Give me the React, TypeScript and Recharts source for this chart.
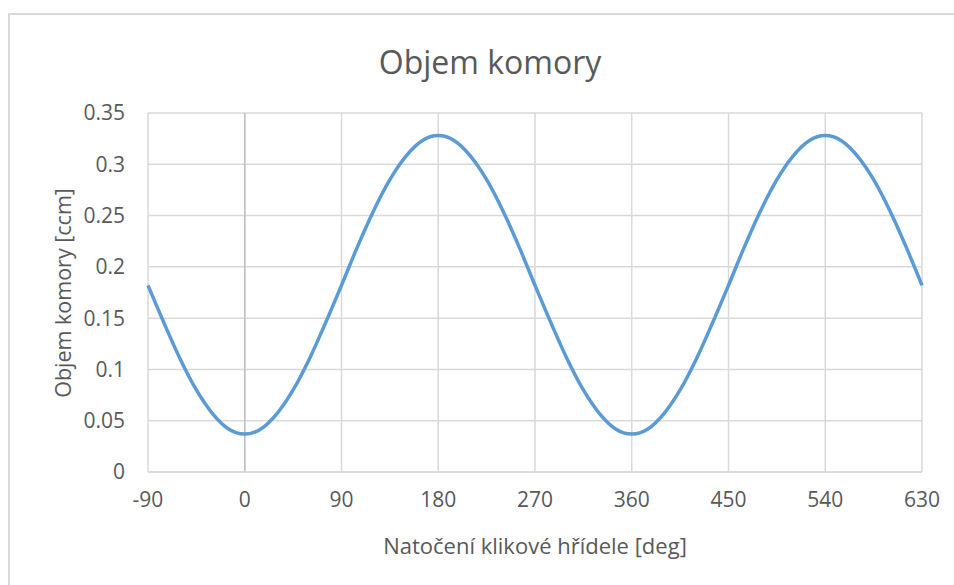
import { CartesianGrid, Line, LineChart, ReferenceLine, XAxis, YAxis } from "recharts";

const angles = [
  -90, -75, -60, -45, -30, -15, 0, 15, 30, 45, 60, 75, 90, 105, 120, 135, 150, 165, 180, 195, 210, 225, 240, 255, 270,
  285, 300, 315, 330, 345, 360, 375, 390, 405, 420, 435, 450, 465, 480, 495, 510, 525, 540, 555, 570, 585, 600, 615, 630,
];
const volumes = [
  0.182, 0.145, 0.11, 0.08, 0.057, 0.042, 0.037, 0.042, 0.057, 0.08, 0.11, 0.145, 0.182, 0.22, 0.255, 0.285, 0.308, 0.323,
  0.328, 0.323, 0.308, 0.285, 0.255, 0.22, 0.182, 0.145, 0.11, 0.08, 0.057, 0.042, 0.037, 0.042, 0.057, 0.08, 0.11, 0.145,
  0.182, 0.22, 0.255, 0.285, 0.308, 0.323, 0.328, 0.323, 0.308, 0.285, 0.255, 0.22, 0.182,
];
const xTicks = [-90, 0, 90, 180, 270, 360, 450, 540, 630];
const yTicks = [0, 0.05, 0.1, 0.15, 0.2, 0.25, 0.3, 0.35];

const data = angles.map((deg, i) => ({ deg, volume: volumes[i] }));

const font = "'Open Sans', 'Noto Sans', sans-serif";
const textColor = "#595959";
const gridColor = "#d9d9d9";
const tickStyle = { fill: textColor, fontSize: 21, fontFamily: font };

export default function App() {
  return (
    <div style={{ position: "fixed", left: 0, top: 0, width: 954, height: 585, overflow: "hidden", background: "#fff" }}>
      <div style={{ position: "absolute", left: 8, top: 13, width: 1000, height: 700, border: `2px solid ${gridColor}` }} />
      <div
        style={{ position: "absolute", left: 490, top: 61, transform: "translate(-50%, -50%)", whiteSpace: "nowrap", fontFamily: font, fontSize: 32, color: textColor }}
      >
        Objem komory
      </div>
      <div
        style={{ position: "absolute", left: 535, top: 545, transform: "translate(-50%, -50%)", whiteSpace: "nowrap", fontFamily: font, fontSize: 22, color: textColor }}
      >
        Natočení klikové hřídele [deg]
      </div>
      <div
        style={{ position: "absolute", left: 62, top: 293, transform: "translate(-50%, -50%) rotate(-90deg)", whiteSpace: "nowrap", fontFamily: font, fontSize: 21.5, color: textColor }}
      >
        Objem komory [ccm]
      </div>
      <div style={{ position: "absolute", left: 0, top: 0 }}>
        <LineChart width={954} height={585} data={data} margin={{ top: 113, right: 32, bottom: 0, left: 0 }}>
          <CartesianGrid stroke={gridColor} strokeWidth={1.5} />
          <XAxis
            dataKey="deg"
            type="number"
            domain={[-90, 630]}
            ticks={xTicks}
            tick={tickStyle}
            tickLine={false}
            tickSize={0}
            tickMargin={20}
            axisLine={{ stroke: gridColor, strokeWidth: 1.5 }}
            height={113}
          />
          <YAxis
            type="number"
            domain={[0, 0.35]}
            ticks={yTicks}
            tick={tickStyle}
            tickLine={false}
            tickSize={0}
            tickMargin={23}
            axisLine={false}
            width={148}
          />
          <ReferenceLine x={0} stroke="#bfbfbf" strokeWidth={1.5} />
          <Line type="monotone" dataKey="volume" stroke="#5b9bd5" strokeWidth={3.5} dot={false} isAnimationActive={false} />
        </LineChart>
      </div>
    </div>
  );
}
